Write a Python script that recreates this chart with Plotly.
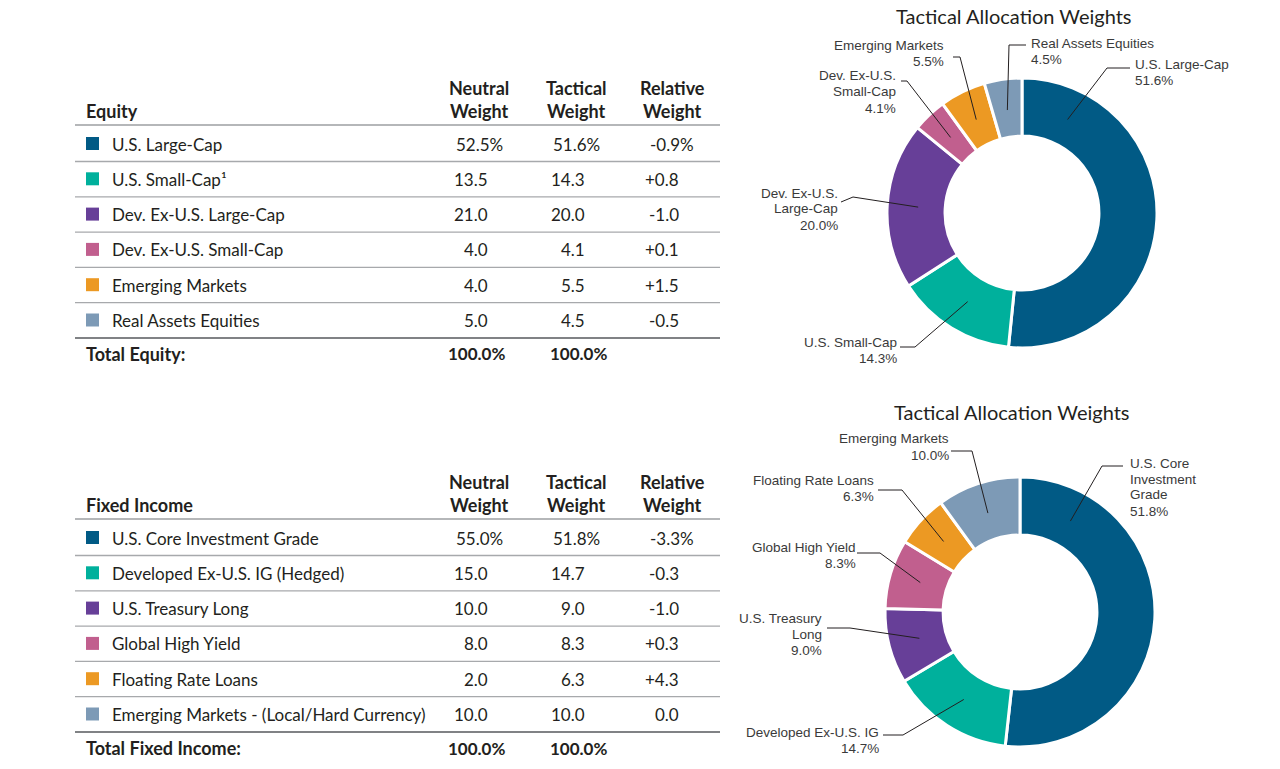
import math
import plotly.graph_objects as go

# ---- data ----
equity_labels = ["U.S. Large-Cap", "U.S. Small-Cap¹", "Dev. Ex-U.S. Large-Cap",
                 "Dev. Ex-U.S. Small-Cap", "Emerging Markets", "Real Assets Equities"]
equity_neutral = [52.5, 13.5, 21.0, 4.0, 4.0, 5.0]
equity_tactical = [51.6, 14.3, 20.0, 4.1, 5.5, 4.5]
equity_relative = [-0.9, 0.8, -1.0, 0.1, 1.5, -0.5]
equity_pie_names = ["U.S. Large-Cap", "U.S. Small-Cap", "Dev. Ex-U.S.<br>Large-Cap",
                    "Dev. Ex-U.S.<br>Small-Cap", "Emerging Markets", "Real Assets Equities"]

fixed_labels = ["U.S. Core Investment Grade", "Developed Ex-U.S. IG (Hedged)",
                "U.S. Treasury Long", "Global High Yield", "Floating Rate Loans",
                "Emerging Markets - (Local/Hard Currency)"]
fixed_neutral = [55.0, 15.0, 10.0, 8.0, 2.0, 10.0]
fixed_tactical = [51.8, 14.7, 9.0, 8.3, 6.3, 10.0]
fixed_relative = [-3.3, -0.3, -1.0, 0.3, 4.3, 0.0]
fixed_pie_names = ["U.S. Core<br>Investment<br>Grade", "Developed Ex-U.S. IG",
                   "U.S. Treasury<br>Long", "Global High Yield", "Floating Rate Loans",
                   "Emerging Markets"]

colors = ["#015a85", "#00b09c", "#673f98", "#c15f8e", "#ec9923", "#7d9ab6"]

# whole window is the figure (body margin removed in post_script below)
W, H = 1280, 769
TABLE_FONT = "Lato"
PIE_FONT = "Liberation Sans"
TEXT = "#231f20"


def px(x):
    return x / W


def py(y):
    return 1 - y / H


fig = go.Figure()
annotations = []
shapes = []


def text(x, y, s, size=17, bold=False, anchor="left", font=TABLE_FONT, color=TEXT):
    if bold:
        s = "<b>" + s + "</b>"
    annotations.append(dict(x=px(x), y=py(y), xref="paper", yref="paper", text=s,
                            showarrow=False, xanchor=anchor, yanchor="middle",
                            font=dict(family=font, size=size, color=color)))


def hline(y, x0=75, x1=720, width=1.3, color="#a7a9ac"):
    shapes.append(dict(type="line", xref="paper", yref="paper", x0=px(x0), x1=px(x1),
                       y0=py(y), y1=py(y), line=dict(color=color, width=width)))


def number(xr, y, val, pct=False, signed=False, bold=False):
    if signed and abs(val) > 1e-9:
        s = f"{val:+.1f}"
    else:
        s = f"{val:.1f}"
    if pct:
        text(xr + 15, y, s + "%", bold=bold, anchor="right")
    else:
        text(xr, y, s, bold=bold, anchor="right")


def draw_table(top, title, labels, neutral, tactical, relative, total_label):
    # header
    text(84, top + 111, title, size=18, bold=True)
    for cx, w1 in [(479, "Neutral"), (576, "Tactical"), (672, "Relative")]:
        text(cx, top + 88, w1, size=18, bold=True, anchor="center")
        text(cx, top + 111, "Weight", size=18, bold=True, anchor="center")
    hline(top + 125, width=1.6, color="#9d9fa2")
    step = 35.3
    for i, lab in enumerate(labels):
        yc = top + 144 + i * step
        shapes.append(dict(type="rect", xref="paper", yref="paper",
                           x0=px(86), x1=px(99), y0=py(yc - 7), y1=py(yc + 6),
                           fillcolor=colors[i], line=dict(width=0)))
        text(110, yc, lab)
        first = i == 0
        number(490, yc, neutral[i], pct=first)
        number(587, yc, tactical[i], pct=first)
        number(681, yc, relative[i], pct=first, signed=True)
        if i < len(labels) - 1:
            hline(yc + 17.5)
    hline(top + 338, width=2, color="#808285")
    text(84, top + 354, total_label, size=18, bold=True)
    number(492, top + 354, sum(neutral), pct=True, bold=True)
    number(594, top + 354, 100.0, pct=True, bold=True)


def draw_donut(cx, cy, r, values, names, title_y, label_specs):
    fig.add_trace(go.Pie(
        values=values, labels=names, sort=False, direction="clockwise", rotation=0,
        hole=0.57, textinfo="none", hoverinfo="label+percent", showlegend=False,
        marker=dict(colors=colors, line=dict(color="white", width=3)),
        domain=dict(x=[px(cx - r), px(cx + r)], y=[py(cy + r), py(cy - r)]),
    ))
    text(cx - 8, title_y, "Tactical Allocation Weights", size=20, anchor="center")
    total = sum(values)
    cum = 0
    for i, v in enumerate(values):
        spec = label_specs[i]
        ang = spec.get("angle", 360 * (cum + v / 2) / total)
        cum += v
        ax = cx + 104 * math.sin(math.radians(ang))
        ay = cy - 104 * math.cos(math.radians(ang))
        pts = [(ax, ay)] + spec["leader"]
        for (x0, y0), (x1, y1) in zip(pts[:-1], pts[1:]):
            shapes.append(dict(type="line", xref="paper", yref="paper",
                               x0=px(x0), y0=py(y0), x1=px(x1), y1=py(y1),
                               line=dict(color="#231f20", width=1)))
        lines = names[i].split("<br>") + [f"{v:.1f}%"]
        y0 = spec["y"] - 8 * (len(lines) - 1)
        for k, ln in enumerate(lines):
            text(spec["x"], y0 + 16 * k, ln, size=13.5, anchor=spec["anchor"],
                 font=PIE_FONT, color="#3a3a3a")


draw_table(0, "Equity", equity_labels, equity_neutral, equity_tactical,
           equity_relative, "Total Equity:")
draw_table(394, "Fixed Income", fixed_labels, fixed_neutral, fixed_tactical,
           fixed_relative, "Total Fixed Income:")

equity_label_specs = [
    dict(x=1133, y=72, anchor="left", angle=26, leader=[(1107, 68), (1130, 68)]),
    dict(x=899, y=350, anchor="right", leader=[(915, 347), (900, 347)]),
    dict(x=840, y=209, anchor="right", leader=[(853, 197), (841, 202)]),
    dict(x=898, y=92, anchor="right", leader=[(907, 81), (901, 81)]),
    dict(x=946, y=54, anchor="right", leader=[(960, 57), (953, 57)]),
    dict(x=1029, y=51, anchor="left", leader=[(1009, 45), (1026, 45)]),
]
fixed_label_specs = [
    dict(x=1128, y=487, anchor="left", angle=29, leader=[(1102, 466), (1123, 466)]),
    dict(x=881, y=740, anchor="right", leader=[(903, 735), (883, 735)]),
    dict(x=824, y=634, anchor="right", leader=[(850, 628), (827, 628)]),
    dict(x=858, y=555, anchor="right", leader=[(880, 553), (857, 553)]),
    dict(x=876, y=488, anchor="right", leader=[(902, 490), (878, 490)]),
    dict(x=951, y=447, anchor="right", leader=[(972, 451), (951, 451)]),
]

draw_donut(1022, 213, 135, equity_tactical, equity_pie_names, 16, equity_label_specs)
draw_donut(1020, 612, 135, fixed_tactical, fixed_pie_names, 412, fixed_label_specs)

fig.update_layout(
    width=W, height=H, margin=dict(l=0, r=0, t=0, b=0),
    paper_bgcolor="white", plot_bgcolor="white",
    annotations=annotations, shapes=shapes,
)

fig.write_html("out.html", config={"displayModeBar": False},
               post_script="document.body.style.margin = '0px';")
